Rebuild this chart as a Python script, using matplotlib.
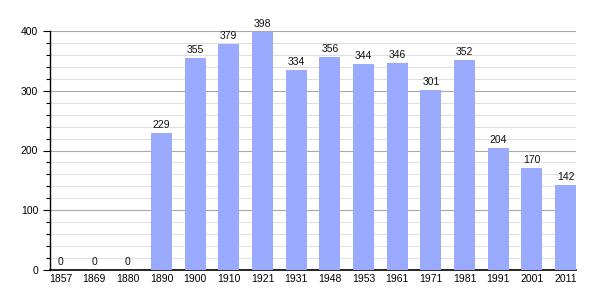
import matplotlib
matplotlib.use("Agg")
import matplotlib.pyplot as plt
from matplotlib.ticker import MultipleLocator

years = ["1857", "1869", "1880", "1890", "1900", "1910", "1921", "1931", "1948",
         "1953", "1961", "1971", "1981", "1991", "2001", "2011"]
population = [0, 0, 0, 229, 355, 379, 398, 334, 356, 344, 346, 301, 352, 204, 170, 142]

plt.rcParams['font.family'] = ['Liberation Sans', 'DejaVu Sans']
fig = plt.figure(figsize=(6.05, 3.0), dpi=100)
ax = fig.add_axes([50/605, 30/300, 526/605, 239/300])

x = list(range(len(years)))
ax.bar(x, population, width=0.62, color="#99aaff", zorder=3)
for xi, v in zip(x, population):
    ax.text(xi, v + 5, str(v), ha="center", va="bottom", fontsize=7.5, color="#111111", zorder=4)

ax.set_xlim(-0.31, 15.31)
ax.set_ylim(0, 400)
ax.set_xticks(x)
ax.set_xticklabels(years, fontsize=7.5)
ax.yaxis.set_major_locator(MultipleLocator(100))
ax.yaxis.set_minor_locator(MultipleLocator(20))
ax.tick_params(axis="y", which="major", length=5, labelsize=7.5, width=0.8)
ax.tick_params(axis="y", which="minor", length=3, width=0.8)
ax.tick_params(axis="x", length=0, labelsize=7.5, pad=3)
ax.grid(axis="y", which="minor", color="#e0e0e0", linewidth=0.8, zorder=0)
ax.grid(axis="y", which="major", color="#a8a8a8", linewidth=0.8, zorder=1)
for s in ["top", "right"]:
    ax.spines[s].set_visible(False)
ax.spines["left"].set_linewidth(1.0)
ax.spines["bottom"].set_linewidth(1.2)

fig.savefig("out.png", dpi=100)
